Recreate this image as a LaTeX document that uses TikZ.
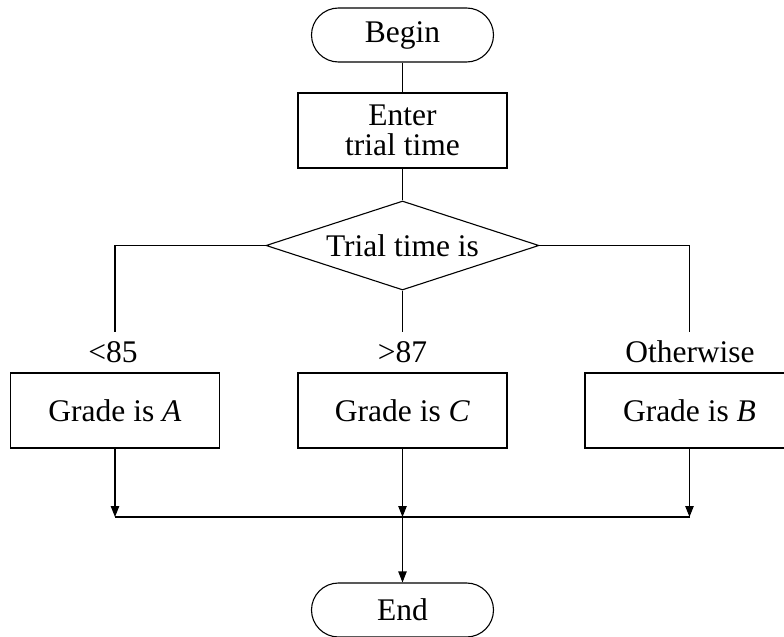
\documentclass[tikz,border=0pt]{standalone}
\usepackage{fontspec}
\setmainfont{Liberation Serif}
\usetikzlibrary{shapes.geometric,arrows.meta}
\begin{document}
\begin{tikzpicture}[x=0.5pt,y=-0.5pt,
  every node/.style={font=\fontsize{15.75pt}{15pt}\selectfont, inner sep=0pt},
  line/.style={draw=black, line width=0.55pt},
  arr/.style={line, -{Triangle[length=5.5pt,width=4.2pt]}},
  terminal/.style={line, rectangle, rounded corners=13.5pt,
    minimum width=91pt, minimum height=27pt},
  procbox/.style={line, rectangle, minimum width=104.5pt, minimum height=37.5pt,
    align=center},
  decision/.style={line, diamond, aspect=3.07, minimum width=136.5pt,
    minimum height=44.5pt},
  cond/.style={anchor=base}
]
\useasboundingbox (0,0) rectangle (784,637);

% main column
\node[terminal] (begin) at (402.5,35) {Begin};
\node[procbox] (enter) at (402.5,130.5) {Enter\\trial time};
\node[decision] (dec) at (402.5,245.5) {Trial time is};

% branch conditions
\node[cond] (lA) at (113,363) {<85};
\node[cond] (lC) at (402.5,363) {>87};
\node[cond] (lB) at (690,363) {Otherwise};

% grade boxes
\node[procbox] (gA) at (115,410.5) {Grade is \textit{A}};
\node[procbox] (gC) at (402.5,410.5) {Grade is \textit{C}};
\node[procbox] (gB) at (689.5,410.5) {Grade is \textit{B}};

\node[terminal] (end) at (402.5,610) {End};

% free ends of the branch lines and merge points
\coordinate (cA) at (115,332);
\coordinate (cC) at (402.5,332);
\coordinate (cB) at (689.5,332);
\coordinate (jA) at (115,517);
\coordinate (jC) at (402.5,517);
\coordinate (jB) at (689.5,517);

\draw[line] (begin.south) -- (enter.north);
\draw[line] (enter.south) -- (dec.north);
\draw[line] (dec.west) -| (cA);
\draw[line] (dec.south) -- (cC);
\draw[line] (dec.east) -| (cB);

\draw[arr] (gA.south) -- (jA);
\draw[arr] (gC.south) -- (jC);
\draw[arr] (gB.south) -- (jB);
\draw[line] (jA) -- (jB);
\draw[arr] (jC) -- (end.north);
\end{tikzpicture}
\end{document}
